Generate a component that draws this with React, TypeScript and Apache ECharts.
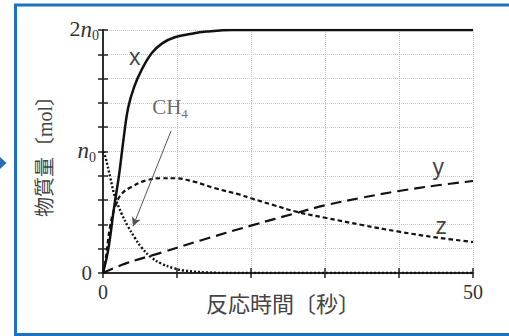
import React, { useEffect, useRef } from "react";
import * as echarts from "echarts";

// x (solid)
const timeX = [0, 0.7, 1.5, 2.2, 2.75, 3.4, 4.2, 5.2, 6.6, 8, 9.7, 12, 14, 17.5, 25, 50];
const valX = [0, 0.19, 0.54, 0.82, 1.09, 1.36, 1.53, 1.67, 1.81, 1.89, 1.94, 1.97, 1.987, 2, 2, 2];
// CH4 (dotted)
const timeC = [0, 0.3, 1, 1.6, 2.5, 3.4, 4.3, 5.2, 6.5, 7.9, 9.5, 11, 14, 18, 50];
const valC = [1.0, 0.96, 0.78, 0.63, 0.49, 0.38, 0.29, 0.21, 0.13, 0.077, 0.04, 0.02, 0.005, 0, 0];
// y (long dashes)
const timeY = [0, 3, 8, 13.3, 20, 26.5, 30, 35, 40, 45, 50];
const valY = [0, 0.077, 0.17, 0.27, 0.39, 0.5, 0.557, 0.62, 0.675, 0.72, 0.757];
// z (short dashes)
const timeZ = [0, 0.27, 0.95, 1.6, 2.5, 3.9, 5.7, 7.9, 9.7, 12.4, 15, 18.5, 20, 23, 26.4, 30, 35, 40, 45, 50];
const valZ = [0, 0.077, 0.38, 0.54, 0.65, 0.71, 0.76, 0.78, 0.78, 0.75, 0.7, 0.645, 0.615, 0.56, 0.5, 0.455, 0.395, 0.34, 0.293, 0.255];

// curve labels [t, value, text]
const curveLabels: [number, number, string][] = [
  [4.3, 1.78, "x"],
  [9.05, 1.355, "CH4"],
  [45.3, 0.87, "y"],
  [45.7, 0.385, "z"],
];
// arrow from CH4 label to the curve
const arrowFrom = [9.2, 1.17];
const arrowTo = [4.05, 0.384];

const xTickLabels: Record<number, string> = { 0: "0", 50: "50" };

const zip = (a: number[], b: number[]) => a.map((v, i) => [v, b[i]]);

const serif = "'Liberation Serif', 'Times New Roman', serif";
const cjk = "'Liberation Serif', 'Noto Sans CJK JP', sans-serif";

export default function App() {
  const ref = useRef<HTMLDivElement>(null);
  useEffect(() => {
    if (!ref.current) return;
    const chart = echarts.init(ref.current, undefined, { renderer: "svg" });
    const axisLine = { show: true, lineStyle: { color: "#222", width: 1.5 } };
    const tick = { show: true, inside: true, length: 5, lineStyle: { color: "#222", width: 1.5 } };
    const split = { show: true, lineStyle: { color: "#c4c4c4", type: "dotted" as const, width: 1 } };
    const lineBase = { type: "line" as const, showSymbol: false, smooth: 0.4 };
    const option: any = {
      animation: false,
      backgroundColor: "#fff",
      grid: { left: 103, right: 36, top: 30, bottom: 63 },
      graphic: [
        {
          type: "rect",
          shape: { x: 15.5, y: 5, width: 600, height: 329.5 },
          style: { fill: "none", stroke: "#1b73c2", lineWidth: 3 },
          silent: true,
        },
        {
          type: "polygon",
          shape: { points: [[0, 157], [6.5, 163], [0, 169]] },
          style: { fill: "#2a6db5" },
          silent: true,
        },
      ],
      xAxis: [
        {
          type: "value",
          min: 0,
          max: 50,
          interval: 10,
          axisLine,
          axisTick: tick,
          splitLine: split,
          axisLabel: {
            margin: 9,
            fontFamily: serif,
            fontSize: 20,
            color: "#333",
            formatter: (v: number) => xTickLabels[v] ?? "",
          },
          name: "反応時間〔秒〕",
          nameLocation: "middle",
          nameGap: 20,
          nameMoveOverlap: false,
          nameTextStyle: {
            fontFamily: cjk,
            fontSize: 22,
            color: "#444",
            verticalAlign: "top",
            padding: [0, 10, 0, 0],
          },
        },
        {
          type: "value",
          position: "top",
          min: 0,
          max: 50,
          interval: 10,
          axisLine,
          axisTick: tick,
          splitLine: { show: false },
          axisLabel: { show: false },
        },
      ],
      yAxis: [
        {
          type: "value",
          min: 0,
          max: 2,
          interval: 0.2,
          axisLine,
          axisTick: tick,
          splitLine: split,
          axisLabel: {
            margin: 4,
            fontFamily: serif,
            fontSize: 20,
            color: "#333",
            formatter: (v: number) => {
              if (Math.abs(v) < 1e-6) return "{z|0}";
              if (Math.abs(v - 1) < 1e-6) return "{i|n}{s|0}{p|}";
              if (Math.abs(v - 2) < 1e-6) return "{r|2}{i|n}{s|0}";
              return "";
            },
            rich: {
              z: { fontFamily: serif, fontSize: 21, color: "#333", padding: [0, 7, 0, 0] },
              r: { fontFamily: serif, fontSize: 22, color: "#333", verticalAlign: "top" },
              i: { fontFamily: serif, fontStyle: "italic", fontSize: 23, color: "#333", verticalAlign: "top" },
              s: { fontFamily: serif, fontSize: 14, color: "#333", verticalAlign: "top", padding: [11, 0, 0, 0] },
              p: { width: 3 },
            },
          },
          name: "物質量〔mol〕",
          nameLocation: "middle",
          nameRotate: 90,
          nameGap: 48,
          nameMoveOverlap: false,
          nameTextStyle: { fontFamily: cjk, fontSize: 20, color: "#444" },
        },
        {
          type: "value",
          position: "right",
          min: 0,
          max: 2,
          interval: 0.2,
          axisLine,
          axisTick: tick,
          splitLine: { show: false },
          axisLabel: { show: false },
        },
      ],
      series: [
        {
          ...lineBase,
          name: "y",
          data: zip(timeY, valY),
          lineStyle: { color: "#111", width: 2.2, type: [11, 6] },
          z: 3,
        },
        {
          ...lineBase,
          name: "z",
          data: zip(timeZ, valZ),
          lineStyle: { color: "#111", width: 2.2, type: [4.5, 3] },
          z: 3,
        },
        {
          ...lineBase,
          name: "CH4",
          data: zip(timeC, valC),
          lineStyle: { color: "#111", width: 2.4, type: [2, 2] },
          z: 3,
          markLine: {
            silent: true,
            symbol: ["none", "arrow"],
            symbolSize: [7, 9],
            label: { show: false },
            lineStyle: { color: "#555", width: 1, type: "solid" },
            data: [[{ coord: arrowFrom }, { coord: arrowTo }]],
          },
        },
        {
          ...lineBase,
          name: "x",
          data: zip(timeX, valX),
          lineStyle: { color: "#111", width: 2.5, type: "solid" },
          z: 4,
        },
        {
          type: "scatter",
          name: "labels",
          symbolSize: 0,
          data: curveLabels.map(([t, v, s]) => ({ value: [t, v], name: s })),
          z: 5,
          label: {
            show: true,
            position: "inside",
            formatter: (p: any) => (p.name === "CH4" ? "{c|CH}{s|4}" : `{l|${p.name}}`),
            rich: {
              l: { fontFamily: "'Liberation Sans', Arial, sans-serif", fontSize: 23, color: "#111" },
              c: { fontFamily: serif, fontSize: 21, color: "#444", verticalAlign: "top" },
              s: { fontFamily: serif, fontSize: 13, color: "#444", verticalAlign: "top", padding: [11, 0, 0, 0] },
            },
          },
        },
      ],
    };
    chart.setOption(option);
    return () => chart.dispose();
  }, []);
  return (
    <div
      ref={ref}
      style={{ position: "absolute", left: 0, top: 0, width: 509, height: 336 }}
    />
  );
}
